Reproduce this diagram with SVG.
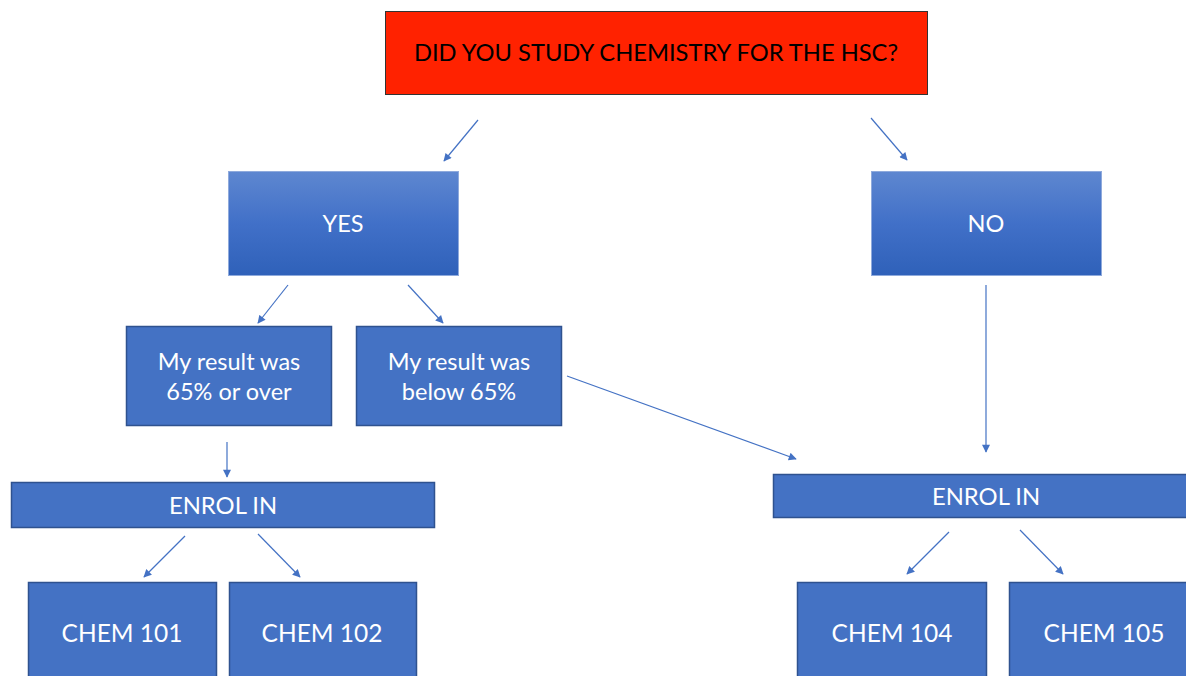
<svg xmlns="http://www.w3.org/2000/svg" width="1186" height="676" viewBox="0 0 1186 676">
<style>
.box{fill:#4472C4;stroke:#2F528F;stroke-width:1.5}
.grad{fill:url(#g);stroke:#8FAADC;stroke-width:1}
.t{font-family:Lato,"Liberation Sans",sans-serif;fill:#fff;text-anchor:middle;dominant-baseline:central}
.c{stroke:#4472C4;stroke-width:1.2;fill:none;marker-end:url(#a)}
</style>
<defs>
<linearGradient id="g" x1="0" y1="0" x2="0" y2="1">
<stop offset="0" stop-color="#5E87D0"/>
<stop offset="0.5" stop-color="#4170C8"/>
<stop offset="1" stop-color="#2F61B9"/>
</linearGradient>
<marker id="a" viewBox="0 0 10 10" refX="9" refY="5" markerWidth="10" markerHeight="8" markerUnits="userSpaceOnUse" orient="auto">
<path d="M0,0 L10,5 L0,10 z" fill="#4472C4"/>
</marker>
</defs>
<rect width="1186" height="676" fill="#fff"/>
<g id="q">
<rect x="385.5" y="11.5" width="542" height="83" fill="#FF2200" stroke="#333" stroke-width="1"/>
<text class="t" x="656" y="52" font-size="23.7" style="fill:#000">DID YOU STUDY CHEMISTRY FOR THE HSC?</text>
</g>
<g id="yes">
<rect class="grad" x="228.5" y="171.5" width="230" height="104"/>
<text class="t" x="343" y="223" font-size="23.5">YES</text>
</g>
<g id="no">
<rect class="grad" x="871.5" y="171.5" width="230" height="104"/>
<text class="t" x="986" y="223" font-size="23.5">NO</text>
</g>
<g id="over">
<rect class="box" x="126.5" y="326.5" width="205" height="99"/>
<text class="t" x="229" y="361" font-size="23.5">My result was</text>
<text class="t" x="229" y="391" font-size="23.5">65% or over</text>
</g>
<g id="below">
<rect class="box" x="356.5" y="326.5" width="205" height="99"/>
<text class="t" x="459" y="361" font-size="23.5">My result was</text>
<text class="t" x="459" y="391" font-size="23.5">below 65%</text>
</g>
<g id="enrol1">
<rect class="box" x="11.5" y="482.5" width="423" height="45"/>
<text class="t" x="223" y="505" font-size="23.8">ENROL IN</text>
</g>
<g id="enrol2">
<rect class="box" x="773.5" y="474.5" width="420" height="43"/>
<text class="t" x="986" y="496" font-size="23.8">ENROL IN</text>
</g>
<g id="c101">
<rect class="box" x="28.5" y="582.5" width="188" height="100"/>
<text class="t" x="122" y="632" font-size="24.5">CHEM 101</text>
</g>
<g id="c102">
<rect class="box" x="229.5" y="582.5" width="187" height="100"/>
<text class="t" x="322" y="632" font-size="24.5">CHEM 102</text>
</g>
<g id="c104">
<rect class="box" x="797.5" y="582.5" width="189" height="100"/>
<text class="t" x="892" y="632" font-size="24.5">CHEM 104</text>
</g>
<g id="c105">
<rect class="box" x="1009.5" y="582.5" width="190" height="100"/>
<text class="t" x="1104" y="632" font-size="24.5">CHEM 105</text>
</g>
<g id="connectors">
<line class="c" x1="478" y1="120" x2="444" y2="161"/>
<line class="c" x1="871" y1="118" x2="907" y2="160"/>
<line class="c" x1="288" y1="285" x2="258" y2="323"/>
<line class="c" x1="408" y1="285" x2="443" y2="323"/>
<line class="c" x1="567" y1="376" x2="796" y2="459"/>
<line class="c" x1="227" y1="442" x2="227" y2="477"/>
<line class="c" x1="986" y1="285" x2="986" y2="452"/>
<line class="c" x1="185" y1="536" x2="144" y2="577"/>
<line class="c" x1="258" y1="534" x2="300" y2="577"/>
<line class="c" x1="949" y1="532" x2="907" y2="574"/>
<line class="c" x1="1020" y1="530" x2="1063" y2="574"/>
</g>
</svg>
